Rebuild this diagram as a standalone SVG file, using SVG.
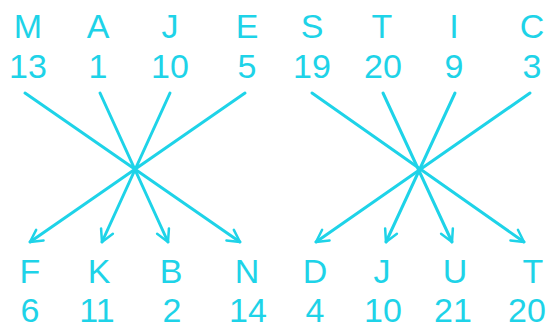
<svg xmlns="http://www.w3.org/2000/svg" width="548" height="328" viewBox="0 0 548 328">
<style>
text{font-family:"Liberation Sans",Arial,sans-serif;font-size:34px;fill:#1ed3e8;text-anchor:middle}
.c line{stroke:#1ed3e8;stroke-width:3;stroke-linecap:round}
</style>
<defs>
<marker id="ah" viewBox="-14 -8 16 16" refX="0" refY="0" markerWidth="16" markerHeight="16" markerUnits="userSpaceOnUse" orient="auto">
<polyline points="-12,-6.5 0,0 -12,6.5" fill="none" stroke="#1ed3e8" stroke-width="2.5" stroke-linecap="round" stroke-linejoin="round"/>
</marker>
</defs>
<rect width="548" height="328" fill="#ffffff"/>
<g id="n-M"><text x="28" y="38">M</text><text x="28" y="78">13</text></g>
<g id="n-A"><text x="98" y="38">A</text><text x="98" y="78">1</text></g>
<g id="n-J1"><text x="170" y="38">J</text><text x="170" y="78">10</text></g>
<g id="n-E"><text x="247" y="38">E</text><text x="247" y="78">5</text></g>
<g id="n-S"><text x="312" y="38">S</text><text x="312" y="78">19</text></g>
<g id="n-T1"><text x="382" y="38">T</text><text x="383" y="78">20</text></g>
<g id="n-I"><text x="454" y="38">I</text><text x="454" y="78">9</text></g>
<g id="n-C"><text x="532" y="38">C</text><text x="532" y="78">3</text></g>
<g id="n-F"><text x="30" y="283">F</text><text x="30" y="322">6</text></g>
<g id="n-K"><text x="99" y="283">K</text><text x="97" y="322">11</text></g>
<g id="n-B"><text x="171" y="283">B</text><text x="172" y="322">2</text></g>
<g id="n-N"><text x="247" y="283">N</text><text x="248" y="322">14</text></g>
<g id="n-D"><text x="315" y="283">D</text><text x="315" y="322">4</text></g>
<g id="n-J2"><text x="382" y="283">J</text><text x="383" y="322">10</text></g>
<g id="n-U"><text x="455" y="283">U</text><text x="453" y="322">21</text></g>
<g id="n-T2"><text x="533" y="283">T</text><text x="527" y="322">20</text></g>
<g id="connectors" class="c">
<line x1="25" y1="93" x2="240" y2="242" marker-end="url(#ah)"/>
<line x1="100" y1="93" x2="168" y2="242" marker-end="url(#ah)"/>
<line x1="170" y1="93" x2="102" y2="242" marker-end="url(#ah)"/>
<line x1="245" y1="93" x2="30" y2="242" marker-end="url(#ah)"/>
<line x1="312" y1="93" x2="524" y2="242" marker-end="url(#ah)"/>
<line x1="383" y1="93" x2="452" y2="242" marker-end="url(#ah)"/>
<line x1="455" y1="93" x2="386" y2="242" marker-end="url(#ah)"/>
<line x1="530" y1="93" x2="316" y2="242" marker-end="url(#ah)"/>
</g>
</svg>
